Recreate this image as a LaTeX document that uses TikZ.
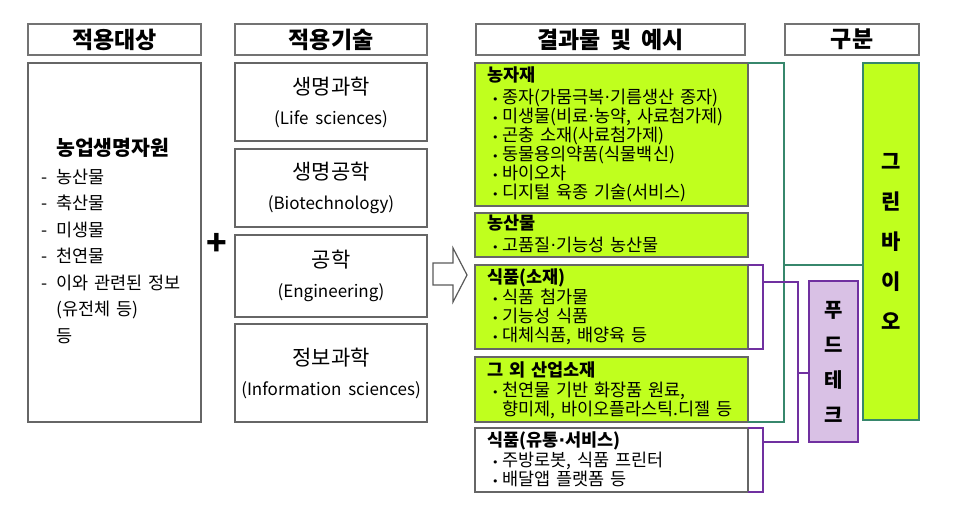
\documentclass[tikz,border=0pt]{standalone}
\usepackage{fontspec}
\setmainfont{Noto Sans CJK KR}[WordSpace=1.8]
\newfontfamily\symfont{DejaVu Sans}

\definecolor{gbfill}{RGB}{192,255,30}
\definecolor{gbdraw}{RGB}{55,135,108}
\definecolor{ftfill}{RGB}{217,193,229}
\definecolor{ftdraw}{RGB}{112,48,160}

\newcommand{\rbul}{\hspace*{5pt}\makebox[10pt][l]{\symfont\fontsize{11}{11}\selectfont •}}
\newcommand{\mdot}{{\symfont ·}}
\newcommand{\rdash}{\leavevmode\llap{-\hspace*{9pt}}}
\newcommand{\eng}[1]{{\fontsize{17}{30}\selectfont #1}}

\tikzset{
    hdbox/.style={draw=black!55, line width=1.6pt, anchor=north west, inner sep=0, outer sep=0, minimum height=31, font=\fontsize{23}{26}\selectfont\bfseries},
    box/.style={draw=black!60, line width=1.3pt, anchor=north west, inner sep=0, outer sep=0},
    grbox/.style={box, fill=gbfill},
    techbox/.style={box, minimum width=192, align=center, font=\fontsize{21}{30}\selectfont},
    restext/.style={anchor=base west, inner sep=0, text width=268, align=left, font=\fontsize{17.5}{19}\selectfont},
    gline/.style={draw=gbdraw, line width=1.4pt},
    pline/.style={draw=ftdraw, line width=1.4pt},
}

\begin{document}
\begin{tikzpicture}[x=1pt, y=-1pt]
        \useasboundingbox (0,0) rectangle (970,515);

        \node[hdbox, minimum width=173] (hd1) at (28,24) {적용대상};
        \node[hdbox, minimum width=192] (hd2) at (235,24) {적용기술};
        \node[hdbox, minimum width=269] (hd3) at (476,24) {결과물 및 예시};
        \node[hdbox, minimum width=134] (hd4) at (785,24) {구분};

        \node[box, minimum width=173, minimum height=359] (src) at (28,63) {};
        \node[anchor=base west, inner sep=0, font=\fontsize{20.5}{22}\selectfont\bfseries] (srct) at (56,155) {농업생명자원};
        \node[anchor=base west, inner sep=0, text width=142, align=left, font=\fontsize{17.5}{26.5}\selectfont] (srcl) at (56,183)
            {\rdash 농산물\\ \rdash 축산물\\ \rdash 미생물\\ \rdash 천연물\\
             \rdash 이와 관련된 정보\\ (유전체 등)\\ 등};

        \node (plus) at (217,244) {\fontsize{34}{34}\selectfont\bfseries +};

        \node[techbox, minimum height=78] (t1) at (235,63) {생명과학\\\eng{(Life sciences)}};
        \node[techbox, minimum height=78] (t2) at (235,149) {생명공학\\\eng{(Biotechnology)}};
        \node[techbox, minimum height=82] (t3) at (235,235) {공학\\\eng{(Engineering)}};
        \node[techbox, minimum height=98] (t4) at (235,324) {정보과학\\\eng{(Information sciences)}};

        \draw[draw=black!65, line width=1.2pt] (433,263) -- (453,263) -- (453,248) -- (467,275) -- (453,302) -- (453,285) -- (433,285) -- cycle;

        \node[grbox, minimum width=273, minimum height=143] (r1) at (475,63) {};
        \node[restext] (r1t) at (487,81) {\textbf{농자재}\\[3pt] \rbul 종자(가뭄극복\mdot 기름생산 종자)\\ \rbul 미생물(비료\mdot 농약, 사료첨가제)\\
            \rbul 곤충 소재(사료첨가제)\\ \rbul 동물용의약품(식물백신)\\ \rbul 바이오차\\ \rbul 디지털 육종 기술(서비스)};

        \node[grbox, minimum width=273, minimum height=44] (r2) at (475,213) {};
        \node[restext] (r2t) at (487,229) {\textbf{농산물}\\[3pt] \rbul 고품질\mdot 기능성 농산물};

        \node[grbox, minimum width=273, minimum height=84] (r3) at (475,265) {};
        \node[restext] (r3t) at (487,283) {\textbf{식품(소재)}\\[1pt] \rbul 식품 첨가물\\ \rbul 기능성 식품\\ \rbul 대체식품, 배양육 등};

        \node[grbox, minimum width=273, minimum height=65] (r4) at (475,357) {};
        \node[restext] (r4t) at (487,376) {\textbf{그 외 산업소재}\\[1pt] \rbul 천연물 기반 화장품 원료,\\ \hspace*{15pt}향미제, 바이오플라스틱.디젤 등};

        \node[box, minimum width=273, minimum height=64] (r5) at (475,428) {};
        \node[restext] (r5t) at (487,446) {\textbf{식품(유통\mdot 서비스)}\\[1pt] \rbul 주방로봇, 식품 프린터\\ \rbul 배달앱 플랫폼 등};

        \node[box, draw=gbdraw, fill=gbfill, minimum width=56, minimum height=357, align=center, font=\fontsize{21}{40}\selectfont\bfseries] (gb) at (863,63) {그\\린\\바\\이\\오};
        \node[box, draw=ftdraw, fill=ftfill, minimum width=49, minimum height=161, align=center, font=\fontsize{20}{35}\selectfont\bfseries] (ft) at (809,281) {푸\\드\\테\\크};

        \coordinate (gk) at (784,265);
        \draw[gline] (r1.north east) -| (gk) |- (r4.south east);
        \draw[gline] (gk) -- (gb.west |- gk);

        \coordinate (p3) at (763,282);
        \coordinate (p5) at (763,442);
        \coordinate (pk) at (798,373);
        \draw[pline] (r3.north east) -| (p3) |- (r3.south east);
        \draw[pline] (r5.north east) -| (p5) |- (r5.south east);
        \draw[pline] (p3) -| (pk) |- (p5);
        \draw[pline] (pk) -- (ft.west |- pk);
    \end{tikzpicture}
\end{document}
